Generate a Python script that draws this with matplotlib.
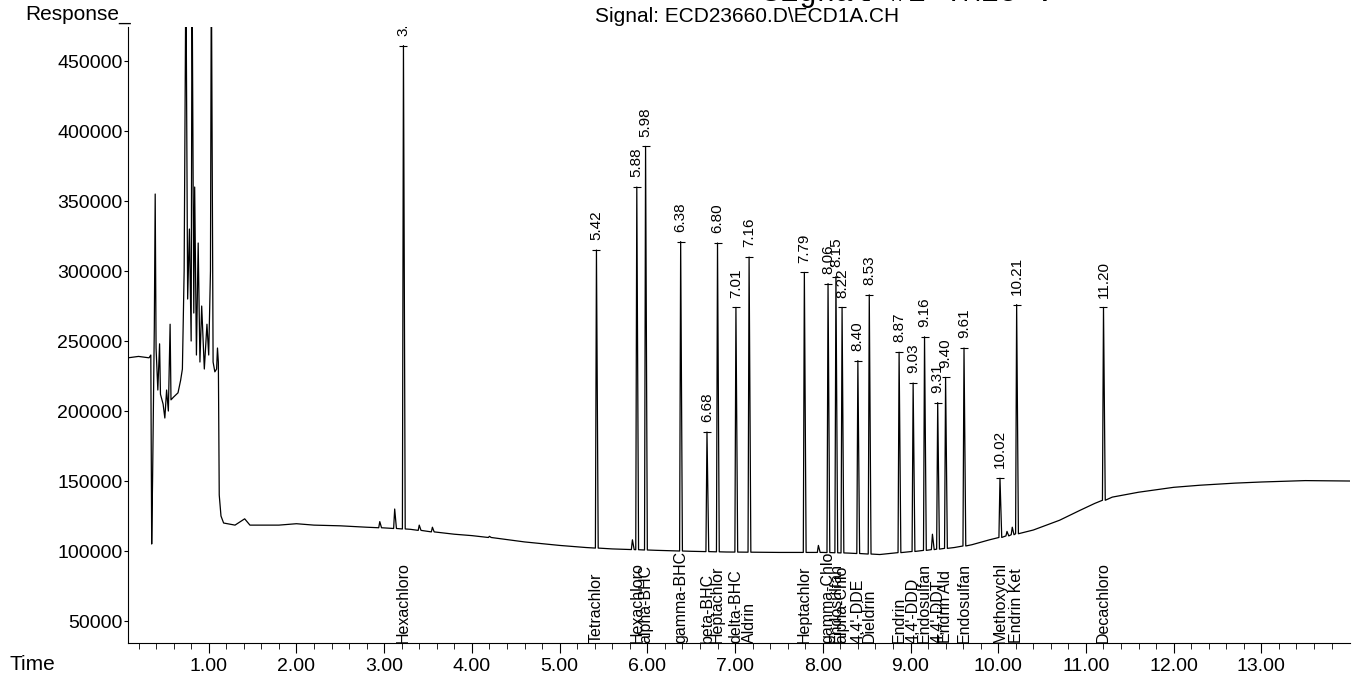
import numpy as np
import matplotlib.pyplot as plt

plt.rcParams['font.family'] = ['Liberation Sans', 'DejaVu Sans']

# solvent front region, read point by point (minutes, response)
early_t = [0.08, 0.20, 0.32, 0.34, 0.35, 0.36, 0.38, 0.39, 0.40, 0.42, 0.44, 0.45,
           0.48, 0.50, 0.52, 0.54, 0.56, 0.57, 0.60, 0.65, 0.68, 0.70, 0.72, 0.74,
           0.76, 0.78, 0.80, 0.81, 0.83, 0.84, 0.86, 0.88, 0.90, 0.92, 0.95, 0.98,
           1.00, 1.02, 1.03, 1.05, 1.07, 1.09, 1.10, 1.11, 1.12, 1.14]
early_y = [238000, 239000, 238000, 240000, 105000, 150000, 260000, 355000, 245000, 215000, 248000, 212000,
           205000, 195000, 215000, 200000, 262000, 208000, 210000, 213000, 222000, 230000, 300000, 520000,
           280000, 330000, 250000, 520000, 270000, 360000, 240000, 320000, 235000, 275000, 230000, 262000,
           240000, 300000, 520000, 235000, 228000, 230000, 245000, 235000, 140000, 125000]

# baseline after the solvent front
base_t = [1.17, 1.30, 1.41, 1.47, 1.80, 2.00, 2.20, 2.50, 2.80, 3.00, 3.30, 3.50,
          3.80, 4.00, 4.30, 4.60, 5.00, 5.30, 5.60, 6.10, 6.50, 6.90, 7.50, 8.00,
          8.30, 8.65, 8.80, 9.00, 9.50, 9.70, 9.90, 10.40, 10.70, 10.93, 11.10, 11.30,
          11.60, 12.00, 12.30, 12.70, 13.00, 13.50, 14.01]
base_y = [120000, 118500, 123000, 118500, 118500, 119500, 118500, 118000, 117000, 116500, 115500, 114000,
          112000, 111000, 109000, 106500, 104000, 102500, 101500, 100500, 99800, 99300, 99000, 99000,
          98500, 97500, 98500, 99500, 102500, 104500, 108000, 115000, 122000, 129000, 134000, 138500,
          142000, 145500, 147000, 148500, 149300, 150300, 150000]

# labelled peaks: retention time, apex response, compound name
peak_rt = [3.22, 5.42, 5.88, 5.98, 6.38, 6.68, 6.80, 7.01, 7.16, 7.79, 8.06, 8.15,
           8.22, 8.40, 8.53, 8.87, 9.03, 9.16, 9.31, 9.40, 9.61, 10.02, 10.21, 11.20]
peak_height = [461000, 315000, 360000, 389000, 321000, 185000, 320000, 274000, 310000, 299000, 291000, 296000,
               274000, 236000, 283000, 242000, 220000, 253000, 206000, 224000, 245000, 152000, 276000, 274000]
compounds = ['Hexachloro', 'Tetrachlor', 'Hexachloro', 'alpha-BHC', 'gamma-BHC', 'beta-BHC',
             'Heptachlor', 'delta-BHC', 'Aldrin', 'Heptachlor', 'gamma-Chlo', 'Endosulfan',
             'alpha-Chlo', "4,4'-DDE", 'Dieldrin', 'Endrin', "4,4'-DDD", 'Endosulfan',
             "4,4'-DDT", 'Endrin Ald', 'Endosulfan', 'Methoxychl', 'Endrin Ket', 'Decachloro']

# small unlabelled peaks
minor_rt = [2.95, 3.12, 3.40, 3.55, 4.20, 5.83, 7.95, 9.25, 10.10, 10.16]
minor_height = [121000, 130000, 118500, 117000, 110500, 108000, 104000, 112000, 114000, 117000]

# build the trace from the readings
all_rt = peak_rt + minor_rt
keep = [i for i, t in enumerate(base_t) if min(abs(t - r) for r in all_rt) > 0.025]
pts = list(zip(early_t, early_y)) + [(base_t[i], base_y[i]) for i in keep]
for rt, h in zip(all_rt, peak_height + minor_height):
    foot = np.interp(rt, base_t, base_y)
    pts += [(rt - 0.012, foot), (rt, h), (rt + 0.02, foot)]
pts.sort()
trace_t = [p[0] for p in pts]
trace_y = [p[1] for p in pts]

fig = plt.figure(figsize=(13.6, 6.77), dpi=100)
ax = fig.add_axes([128 / 1360, 34 / 677, 1222 / 1360, 616 / 677])

ax.plot(trace_t, trace_y, color='black', lw=0.9)
ax.plot(peak_rt, peak_height, '_', color='black', ms=6, mew=0.8)

for rt, h in zip(peak_rt, peak_height):
    ax.annotate('%.2f' % rt, (rt, h), xytext=(0, 7), textcoords='offset points',
                rotation=90, ha='center', va='bottom', fontsize=11, clip_on=True)

ymin, ymax = 34300, 474300
for rt, name in zip(peak_rt, compounds):
    ax.text(rt, ymin, name, rotation=90, ha='center', va='bottom', fontsize=11.5)

ax.set_xlim(0.08, 14.01)
ax.set_ylim(ymin, ymax)

ax.spines['top'].set_visible(False)
ax.spines['right'].set_visible(False)

ax.set_yticks(range(50000, 450001, 50000))
ax.set_xticks(range(1, 14))
ax.set_xticklabels(['%.2f' % v for v in range(1, 14)])
ax.set_xticks(np.arange(0.2, 14.0, 0.2), minor=True)
ax.tick_params(axis='y', labelsize=14, length=3, pad=1)
ax.tick_params(axis='x', which='major', labelsize=14, length=7, pad=4)
ax.tick_params(axis='x', which='minor', length=4)

fig.text(25 / 1360, 1 - 20 / 677, 'Response_', fontsize=15, va='baseline')
fig.text(10 / 1360, 7 / 677, 'Time', fontsize=15, va='baseline')
fig.text(747 / 1360, 1 - 17 / 677, 'Signal: ECD23660.D\\ECD1A.CH', fontsize=15,
         ha='center', va='center')
fig.text(908 / 1360, 1 - 1 / 677, 'Signal #2 TM25 :', family='Liberation Mono',
         fontsize=22, ha='center', va='baseline')

plt.savefig('out.png')
